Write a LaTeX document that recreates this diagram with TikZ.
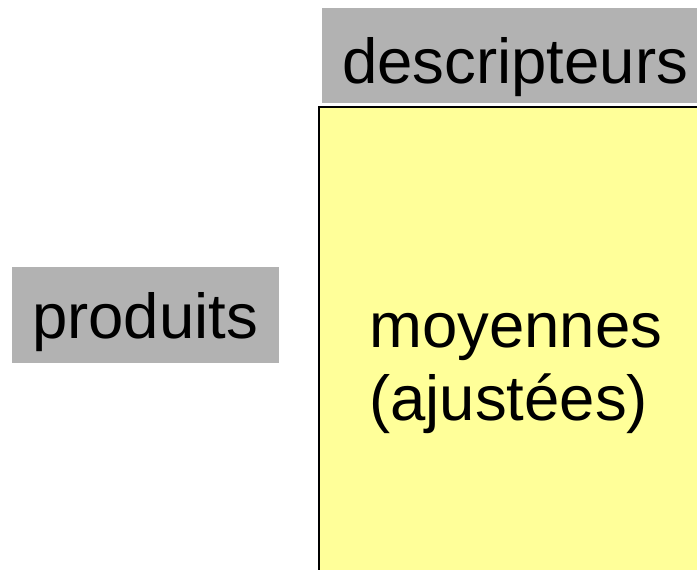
\documentclass[tikz,border=0pt]{standalone}
\usepackage{fontspec}
\setmainfont{Liberation Sans}
\definecolor{headgray}{HTML}{B2B2B2}
\definecolor{cellyellow}{HTML}{FFFF99}
\begin{document}
\begin{tikzpicture}[x=1pt,y=-1pt,
  bigtext/.style={font=\fontsize{63.5}{73}\selectfont, inner sep=0pt, anchor=base west, align=left},
  graybox/.style={fill=headgray, draw=none}]
\useasboundingbox (0,0) rectangle (697,570);
\clip (0,0) rectangle (697,570);
% header strip for the columns
\fill[graybox] (322,8) rectangle (700,103);
\node[bigtext] (desc) at (342,83) {descripteurs};
% header strip for the rows
\fill[graybox] (12,267) rectangle (279,363);
\node[bigtext] (prod) at (32,338) {produits};
% data block
\fill[cellyellow] (319,107) rectangle (710,580);
\draw[line width=2.2pt] (319,580) -- (319,107) -- (710,107);
% the base anchor of a two-line node sits on its last line
\node[bigtext] (moy) at (369,420) {moyennes\\(ajustées)};
\end{tikzpicture}
\end{document}
